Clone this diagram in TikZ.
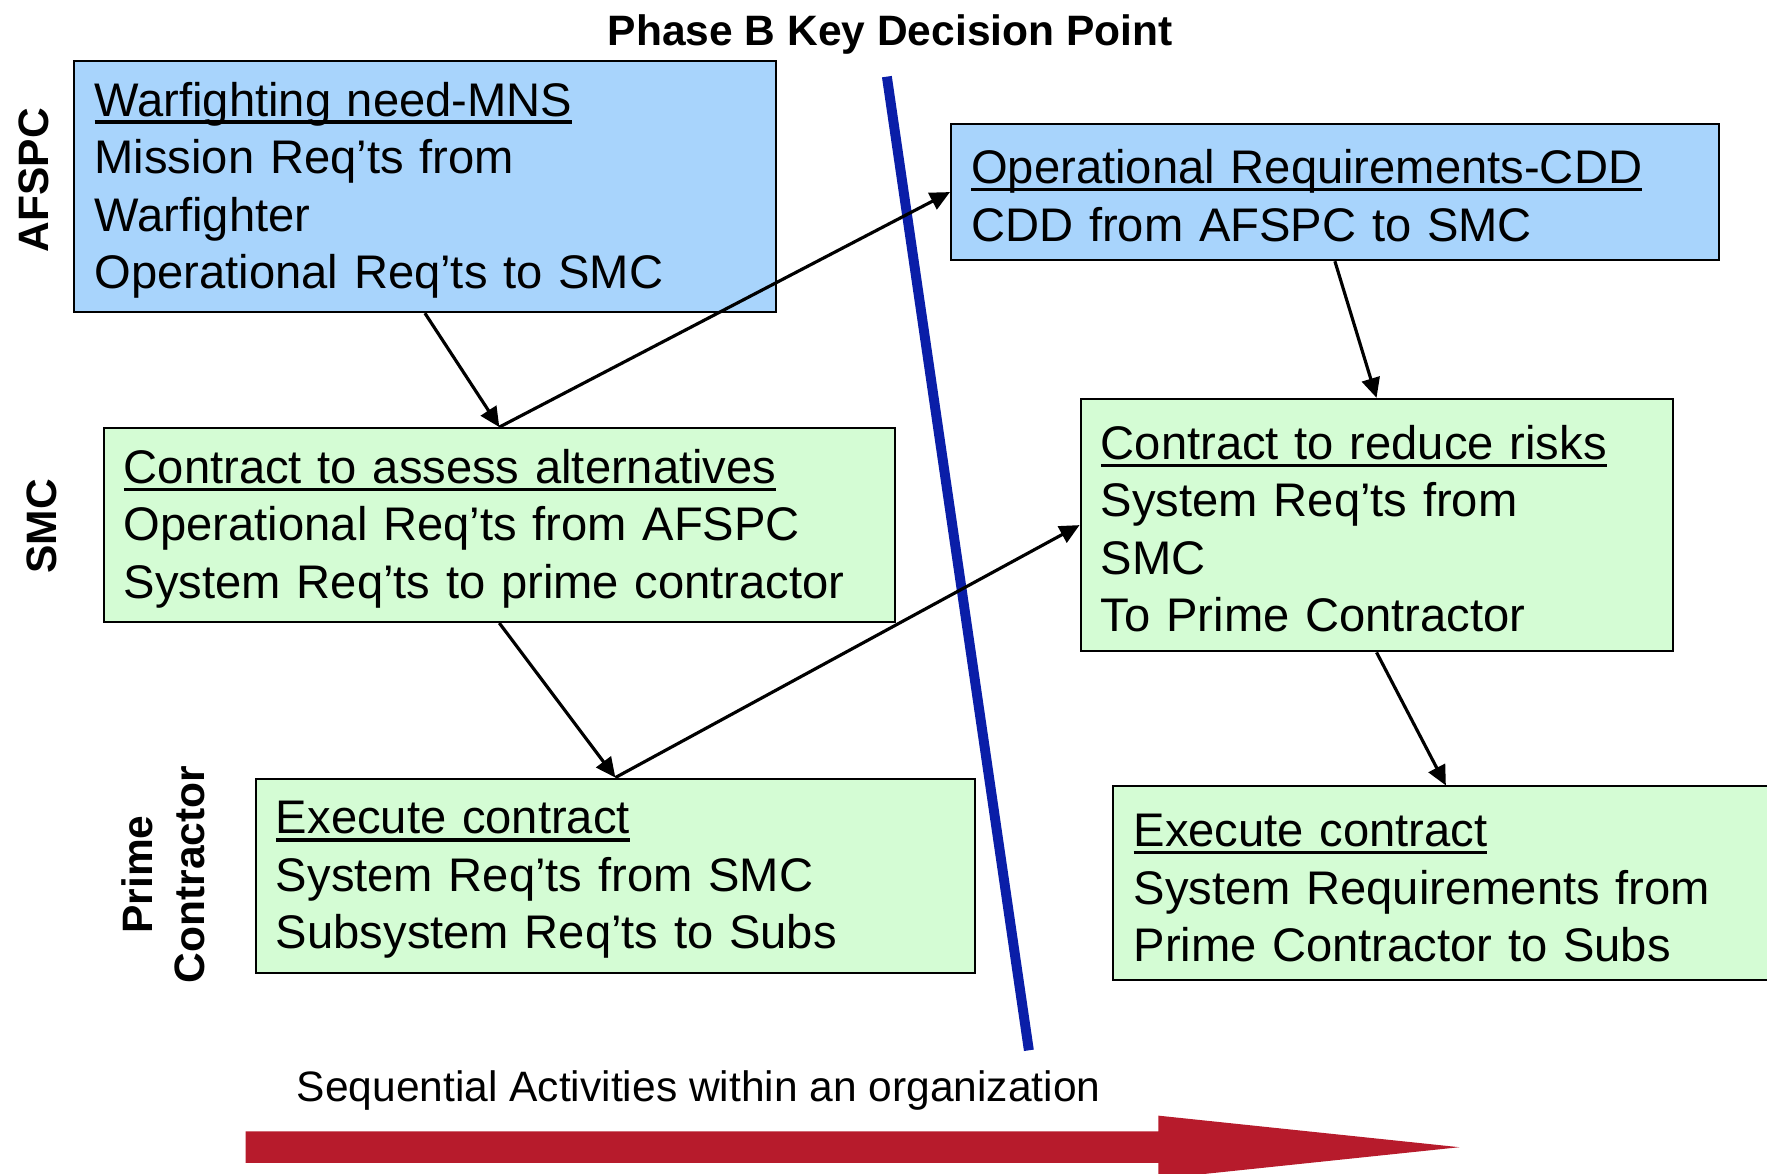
\documentclass[tikz,border=0pt]{standalone}
\usepackage{fontspec}
\setmainfont{Liberation Sans}
\usetikzlibrary{arrows.meta}
\definecolor{boxblue}{RGB}{168,212,252}
\definecolor{boxgreen}{RGB}{212,252,212}
\definecolor{kdpblue}{RGB}{10,30,168}
\definecolor{seqred}{RGB}{183,27,44}
\newcommand\myul[1]{{\rule{0pt}{10.5pt}\setbox0\hbox{#1}\rlap{\rule[-0.16em]{\wd0}{0.07em}}\box0}}
\begin{document}
\begin{tikzpicture}[x=0.01cm,y=-0.01cm,
  box/.style={draw=black, line width=0.5pt, anchor=north west, inner xsep=0.18cm,
    inner ysep=0pt, align=left, font=\fontsize{11.9}{14.5}\selectfont},
  bluebox/.style={box, fill=boxblue},
  greenbox/.style={box, fill=boxgreen},
  lab/.style={font=\fontsize{10.73}{13}\selectfont\bfseries},
  sidelab/.style={lab, rotate=90, align=center},
  conn/.style={line width=0.8pt, -{Triangle[length=5pt,width=4.6pt]}},
  kdp/.style={draw=kdpblue, line width=2.5pt}]
\clip (0,0) rectangle (1568,1041);
\fill[white] (0,0) rectangle (1568,1041);

\node[lab] (title) at (790,31) {Phase B Key Decision Point};

\node[sidelab] (afspc) at (30,160) {AFSPC};
\node[sidelab] (smc) at (37,467) {SMC};
\node[sidelab] (prime) at (145,776) {Prime\\Contractor};

\node[bluebox, text width=5.86cm, minimum height=2.23cm] (war) at (65,53)
  {\myul{Warfighting need-MNS}\\Mission Req’ts from\\Warfighter\\Operational Req’ts to SMC};
\node[bluebox, text width=6.45cm, minimum height=1.21cm] (cdd) at (843,109)
  {\myul{Operational Requirements-CDD}\\CDD from AFSPC to SMC};
\node[greenbox, text width=6.66cm, minimum height=1.72cm] (assess) at (91,379)
  {\myul{Contract to assess alternatives}\\Operational Req’ts from AFSPC\\System Req’ts to prime contractor};
\node[greenbox, text width=4.89cm, minimum height=2.24cm] (reduce) at (958,353)
  {\myul{Contract to reduce risks}\\System Req’ts from\\SMC\\To Prime Contractor};
\node[greenbox, text width=6.02cm, minimum height=1.72cm] (exec1) at (226,690)
  {\myul{Execute contract}\\System Req’ts from SMC\\Subsystem Req’ts to Subs};
\node[greenbox, text width=5.54cm, minimum height=1.72cm] (exec2) at (987,697)
  {\myul{Execute contract}\\System Requirements from\\Prime Contractor to Subs};

\coordinate (kdptop) at (787,68);
\coordinate (kdpbot) at (913,932);
\draw[kdp] (kdptop) -- (kdpbot);

\draw[conn] (war.south) -- (assess.north);
\draw[conn] (assess.north) -- (cdd.west);
\draw[conn] (cdd.south) -- (reduce.north);
\draw[conn] (assess.south) -- (exec1.north);
\draw[conn] (exec1.north) -- (reduce.west);
\draw[conn] (reduce.south) -- (exec2.north);

\node[font=\fontsize{10.73}{13}\selectfont] (seq) at (620,968) {Sequential Activities within an organization};
\fill[seqred] (218,1004) -- (1028,1004) -- (1028,990) -- (1295,1018) -- (1028,1046)
  -- (1028,1032) -- (218,1032) -- cycle;
\end{tikzpicture}
\end{document}
